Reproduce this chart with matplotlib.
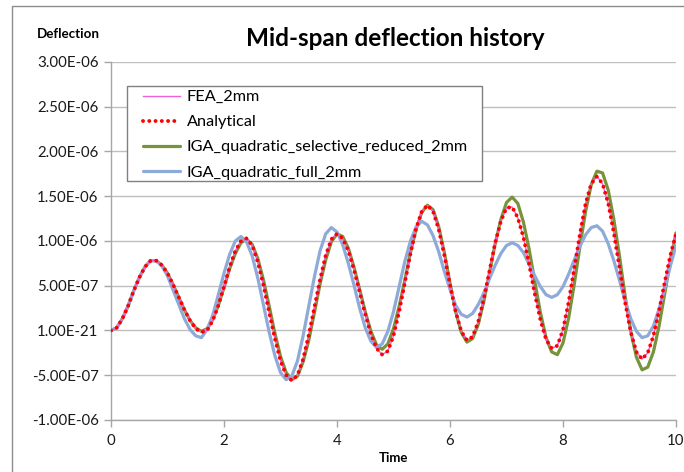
import numpy as np
import matplotlib
matplotlib.use("Agg")
import matplotlib.pyplot as plt
from matplotlib.patches import Rectangle

plt.rcParams['font.family'] = ['Lato', 'DejaVu Sans']

# time axis, sampled every 0.1 s
time = [round(0.1 * i, 1) for i in range(101)]

# mid-span deflection, in units of 1e-6
analytical = [
    0.00, 0.03, 0.13, 0.27, 0.44, 0.59, 0.71, 0.78, 0.78, 0.73,
    0.64, 0.51, 0.37, 0.23, 0.11, 0.02, -0.02, 0.00, 0.11, 0.28,
    0.49, 0.71, 0.89, 1.00, 1.03, 0.95, 0.76, 0.50, 0.20, -0.09,
    -0.34, -0.50, -0.56, -0.50, -0.32, -0.05, 0.26, 0.57, 0.84, 1.02,
    1.08, 1.03, 0.89, 0.68, 0.43, 0.18, -0.04, -0.20, -0.27, -0.23,
    -0.06, 0.21, 0.53, 0.86, 1.14, 1.33, 1.40, 1.33, 1.13, 0.84,
    0.51, 0.21, -0.01, -0.11, -0.07, 0.10, 0.36, 0.67, 0.98, 1.22,
    1.37, 1.38, 1.26, 1.04, 0.74, 0.41, 0.12, -0.10, -0.20, -0.17,
    0.01, 0.32, 0.70, 1.08, 1.42, 1.64, 1.72, 1.64, 1.42, 1.09,
    0.70, 0.31, -0.02, -0.24, -0.32, -0.25, -0.06, 0.22, 0.54, 0.84,
    1.08]

fea_2mm = [
    0.00, 0.03, 0.13, 0.27, 0.44, 0.59, 0.71, 0.78, 0.78, 0.73,
    0.64, 0.51, 0.37, 0.23, 0.11, 0.02, -0.02, 0.00, 0.11, 0.28,
    0.49, 0.71, 0.89, 1.00, 1.03, 0.95, 0.76, 0.50, 0.20, -0.09,
    -0.34, -0.50, -0.56, -0.50, -0.32, -0.05, 0.26, 0.57, 0.84, 1.02,
    1.08, 1.03, 0.89, 0.68, 0.43, 0.18, -0.04, -0.20, -0.27, -0.23,
    -0.06, 0.21, 0.53, 0.86, 1.14, 1.33, 1.40, 1.33, 1.13, 0.84,
    0.51, 0.21, -0.01, -0.11, -0.07, 0.10, 0.36, 0.67, 0.98, 1.22,
    1.37, 1.38, 1.26, 1.04, 0.74, 0.41, 0.12, -0.10, -0.20, -0.17,
    0.01, 0.32, 0.70, 1.08, 1.42, 1.64, 1.72, 1.64, 1.42, 1.09,
    0.70, 0.31, -0.02, -0.24, -0.32, -0.25, -0.06, 0.22, 0.54, 0.84,
    1.08]

iga_selective = [
    0.00, 0.03, 0.13, 0.27, 0.44, 0.59, 0.71, 0.78, 0.78, 0.73,
    0.64, 0.51, 0.37, 0.23, 0.11, 0.03, -0.01, 0.02, 0.12, 0.28,
    0.48, 0.69, 0.86, 0.98, 1.02, 0.96, 0.80, 0.56, 0.27, -0.03,
    -0.29, -0.47, -0.55, -0.51, -0.35, -0.11, 0.20, 0.52, 0.79, 0.99,
    1.08, 1.05, 0.92, 0.71, 0.46, 0.21, -0.01, -0.16, -0.21, -0.15,
    0.02, 0.27, 0.56, 0.87, 1.13, 1.32, 1.40, 1.35, 1.16, 0.87,
    0.53, 0.21, -0.02, -0.13, -0.09, 0.07, 0.33, 0.65, 0.97, 1.24,
    1.43, 1.49, 1.42, 1.21, 0.91, 0.55, 0.20, -0.08, -0.24, -0.27,
    -0.14, 0.14, 0.52, 0.94, 1.33, 1.63, 1.78, 1.76, 1.57, 1.24,
    0.83, 0.38, -0.01, -0.30, -0.44, -0.41, -0.24, 0.05, 0.41, 0.78,
    1.09]

iga_full = [
    0.00, 0.03, 0.13, 0.27, 0.44, 0.59, 0.71, 0.78, 0.78, 0.72,
    0.61, 0.45, 0.29, 0.13, 0.01, -0.06, -0.08, 0.01, 0.17, 0.40,
    0.64, 0.85, 1.00, 1.05, 0.99, 0.83, 0.58, 0.28, -0.02, -0.28,
    -0.47, -0.55, -0.51, -0.34, -0.06, 0.27, 0.60, 0.89, 1.08, 1.15,
    1.10, 0.96, 0.75, 0.51, 0.25, 0.03, -0.12, -0.19, -0.15, -0.01,
    0.21, 0.49, 0.77, 1.00, 1.16, 1.22, 1.18, 1.06, 0.88, 0.66,
    0.46, 0.28, 0.18, 0.15, 0.19, 0.29, 0.42, 0.58, 0.73, 0.86,
    0.95, 0.98, 0.95, 0.87, 0.74, 0.61, 0.49, 0.40, 0.37, 0.40,
    0.49, 0.63, 0.79, 0.94, 1.07, 1.15, 1.17, 1.11, 0.97, 0.78,
    0.56, 0.33, 0.13, -0.01, -0.08, -0.06, 0.05, 0.24, 0.47, 0.72,
    0.95]

y_ticks = [-1.0e-6, -0.5e-6, 0.0, 0.5e-6, 1.0e-6, 1.5e-6, 2.0e-6, 2.5e-6, 3.0e-6]
y_tick_labels = ['-1.00E-06', '-5.00E-07', '1.00E-21', '5.00E-07', '1.00E-06',
                 '1.50E-06', '2.00E-06', '2.50E-06', '3.00E-06']
x_ticks = [0, 2, 4, 6, 8, 10]

scale = 1e-6
grey = '#a6a6a6'

fig = plt.figure(figsize=(6.84, 4.72), dpi=100)
ax = fig.add_axes([0.1623, 0.1102, 0.826, 0.7585])

# outer chart-area border
fig.patches.append(Rectangle((12 / 684, -0.05), 1.1, 1 - 6 / 472 + 0.05,
                             transform=fig.transFigure, fill=False,
                             edgecolor='#8c8c8c', linewidth=1.0))

t = np.array(time)
line_kw = dict(solid_joinstyle='round', solid_capstyle='round')
l_sel, = ax.plot(t, np.array(iga_selective) * scale, color='#77933c', lw=2.3,
                 zorder=2, label='IGA_quadratic_selective_reduced_2mm', **line_kw)
l_full, = ax.plot(t, np.array(iga_full) * scale, color='#8eaad8', lw=2.3,
                  zorder=3, label='IGA_quadratic_full_2mm', **line_kw)
l_fea, = ax.plot(t, np.array(fea_2mm) * scale, color='#f060d8', lw=1.0,
                 zorder=4, label='FEA_2mm')
l_ana, = ax.plot(t, np.array(analytical) * scale, color='#ff0000', lw=2.8,
                 linestyle=(0, (0.01, 1.6)), dash_capstyle='round',
                 zorder=5, label='Analytical')

ax.set_xlim(0, 10)
ax.set_ylim(-1.0e-6, 3.0e-6)
ax.set_xticks(x_ticks)
ax.set_xticklabels([str(v) for v in x_ticks])
ax.set_yticks(y_ticks)
ax.set_yticklabels(y_tick_labels)

ax.grid(axis='y', color='#bfbfbf', lw=1.0)
ax.set_axisbelow(True)
for s in ['top', 'right']:
    ax.spines[s].set_visible(False)
for s in ['left', 'bottom']:
    ax.spines[s].set_color(grey)
    ax.spines[s].set_linewidth(1.0)
ax.tick_params(axis='both', colors=grey, labelcolor='#1a1a1a', labelsize=10.8,
               length=5, width=1.0)
ax.tick_params(axis='y', pad=4)
ax.tick_params(axis='x', pad=5)

# legend box drawn separately so its padding can match the original
ax.add_patch(Rectangle((0.0283, 0.6676), 0.6283, 0.2654, transform=ax.transAxes,
                       facecolor='white', edgecolor='#808080', lw=1.0, zorder=6))
leg = ax.legend(handles=[l_fea, l_ana, l_sel, l_full],
                loc='upper left', bbox_to_anchor=(0.0566, 0.922),
                borderaxespad=0, borderpad=0, frameon=False,
                fontsize=11.7, handlelength=2.3,
                handletextpad=0.4, labelspacing=0.66)
leg.set_zorder(7)

fig.text(395 / 684, 1 - 38 / 472, 'Mid-span deflection history', ha='center',
         va='center', fontsize=17.5, fontweight='bold')
fig.text(68 / 684, 1 - 34 / 472, 'Deflection', ha='center', va='center',
         fontsize=9.6, fontweight='bold')
fig.text(393 / 684, 1 - 458 / 472, 'Time', ha='center', va='center',
         fontsize=9.5, fontweight='bold')

fig.savefig('out.png', dpi=100)
